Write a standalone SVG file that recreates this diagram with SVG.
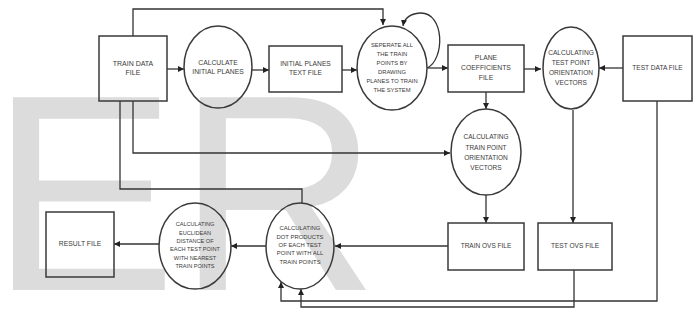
<svg xmlns="http://www.w3.org/2000/svg" width="697" height="325" viewBox="0 0 697 325">
<defs>
<marker id="ah" viewBox="0 0 10 10" refX="10" refY="5" markerWidth="6" markerHeight="6" markerUnits="userSpaceOnUse" orient="auto"><path d="M0,0 L10,5 L0,10 z" fill="#222"/></marker>
<style>
.s{fill:none;stroke:#3a3a3a;stroke-width:1.5}
.c{fill:none;stroke:#333;stroke-width:1.3}
.a{marker-end:url(#ah)}
text{font-family:"Liberation Sans",Arial,sans-serif;fill:#3a3a3a;text-anchor:middle}
.wm{fill:#dcdcdc;text-anchor:start;font-size:280px}
</style>
</defs>
<rect width="697" height="325" fill="#fff"/>
<text class="wm" x="-10" y="290">ER</text>
<g id="connectors">
<path class="c a" d="M133,36 V9 H383 V25"/>
<path class="c a" d="M427,68 C445,60 445,12 420,13 C408,14 404,20 403,26"/>
<path class="c a" d="M167,69 H184"/>
<path class="c a" d="M252,70 H269"/>
<path class="c a" d="M342,70 H357"/>
<path class="c a" d="M428,68 H448"/>
<path class="c a" d="M524,69 H541"/>
<path class="c a" d="M623,68 H599"/>
<path class="c a" d="M486,92 V109"/>
<path class="c a" d="M133,101 V153 H450"/>
<path class="c" d="M120,101 V189 H302 V203"/>
<path class="c a" d="M486,195 V223"/>
<path class="c a" d="M573,110 V223"/>
<path class="c a" d="M448,246 H335"/>
<path class="c a" d="M266,246 H231"/>
<path class="c a" d="M159,244 H114"/>
<path class="c a" d="M657,101 V301 H281 V282"/>
<path class="c a" d="M574,270 V307 H301 V289"/>
</g>
<g id="train-data-file"><rect class="s" x="99" y="36" width="68" height="65"/><text font-size="7" x="133" y="66">TRAIN DATA</text><text font-size="7" x="133" y="75">FILE</text></g>
<g id="calculate-initial-planes"><ellipse class="s" cx="218" cy="67" rx="34" ry="41"/><text font-size="6.8" x="218" y="65">CALCULATE</text><text font-size="6.8" x="218" y="74">INITIAL PLANES</text></g>
<g id="initial-planes-text-file"><rect class="s" x="269" y="46" width="73" height="46"/><text font-size="6.7" x="305.5" y="66">INITIAL PLANES</text><text font-size="6.7" x="305.5" y="75">TEXT FILE</text></g>
<g id="seperate"><ellipse class="s" cx="392" cy="68" rx="35" ry="42"/>
<text font-size="5.8" x="392" y="47">SEPERATE ALL</text><text font-size="5.8" x="392" y="56">THE TRAIN</text><text font-size="5.8" x="392" y="65">POINTS BY</text><text font-size="5.8" x="392" y="74">DRAWING</text><text font-size="5.8" x="392" y="83">PLANES TO TRAIN</text><text font-size="5.8" x="392" y="92">THE SYSTEM</text></g>
<g id="plane-coefficients-file"><rect class="s" x="448" y="45" width="76" height="47"/><text font-size="6.8" x="486" y="60">PLANE</text><text font-size="6.8" x="486" y="70">COEFFICIENTS</text><text font-size="6.8" x="486" y="80">FILE</text></g>
<g id="calc-test-orientation"><ellipse class="s" cx="571" cy="68" rx="28" ry="41"/><text font-size="6.6" x="571" y="55">CALCULATING</text><text font-size="6.6" x="571" y="65">TEST POINT</text><text font-size="6.6" x="571" y="75">ORIENTATION</text><text font-size="6.6" x="571" y="85">VECTORS</text></g>
<g id="test-data-file"><rect class="s" x="623" y="36" width="69" height="65"/><text font-size="6.6" x="657.5" y="70">TEST DATA FILE</text></g>
<g id="calc-train-orientation"><ellipse class="s" cx="486" cy="152" rx="35" ry="43"/><text font-size="6.5" x="486" y="139">CALCULATING</text><text font-size="6.5" x="486" y="150">TRAIN POINT</text><text font-size="6.5" x="486" y="160">ORIENTATION</text><text font-size="6.5" x="486" y="170">VECTORS</text></g>
<g id="train-ovs-file"><rect class="s" x="448" y="223" width="76" height="47"/><text font-size="6.5" x="486" y="248">TRAIN OVS FILE</text></g>
<g id="test-ovs-file"><rect class="s" x="538" y="223" width="74" height="47"/><text font-size="6.6" x="575" y="248">TEST OVS FILE</text></g>
<g id="dot-products"><ellipse class="s" cx="300" cy="246" rx="34" ry="43"/><text font-size="5.9" x="300" y="230">CALCULATING</text><text font-size="5.9" x="300" y="239">DOT PRODUCTS</text><text font-size="5.9" x="300" y="247">OF EACH TEST</text><text font-size="5.9" x="300" y="255">POINT WITH ALL</text><text font-size="5.9" x="300" y="264">TRAIN POINTS</text></g>
<g id="euclidean"><ellipse class="s" cx="195" cy="246" rx="36" ry="43"/><text font-size="5.6" x="195" y="226">CALCULATING</text><text font-size="5.6" x="195" y="235">EUCLIDEAN</text><text font-size="5.6" x="195" y="243">DISTANCE OF</text><text font-size="5.6" x="195" y="251">EACH TEST POINT</text><text font-size="5.6" x="195" y="260">WITH NEAREST</text><text font-size="5.6" x="195" y="268">TRAIN POINTS</text></g>
<g id="result-file"><rect class="s" x="46" y="212" width="68" height="65"/><text font-size="6.8" x="80" y="246">RESULT FILE</text></g>
</svg>
